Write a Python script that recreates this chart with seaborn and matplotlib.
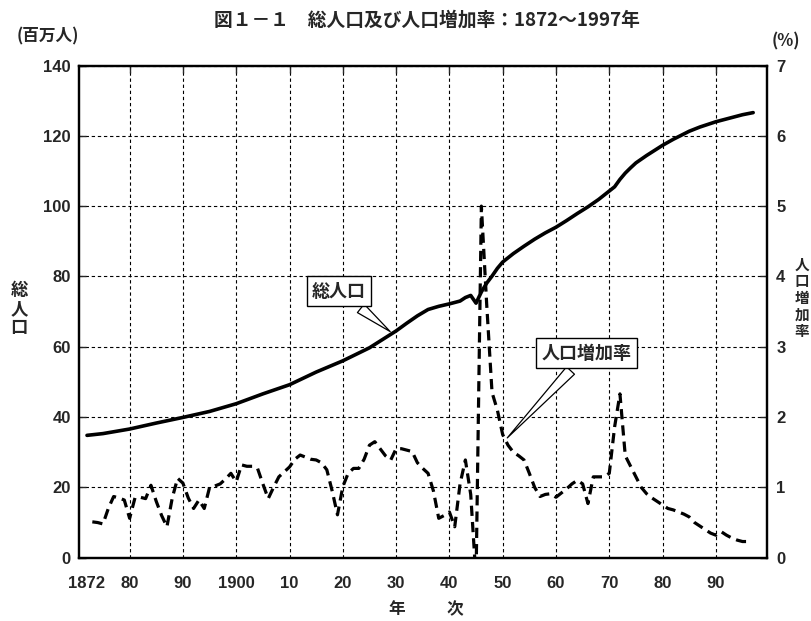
import numpy as np
import pandas as pd
import matplotlib
matplotlib.use("Agg")
import matplotlib.pyplot as plt
import seaborn as sns

# ---- data ----
pop_years = [1872, 1875, 1880, 1885, 1890, 1895, 1900, 1905, 1910, 1915, 1920, 1925,
             1930, 1932, 1934, 1936, 1938, 1940, 1942, 1943, 1944, 1945, 1946, 1947,
             1948, 1949, 1950, 1952, 1954, 1956, 1958, 1960, 1962, 1964, 1966, 1968,
             1970, 1971, 1972, 1973, 1974, 1975, 1977, 1980, 1982, 1985, 1987, 1990,
             1993, 1995, 1997]
population = [34.8, 35.3, 36.6, 38.3, 39.9, 41.6, 43.8, 46.6, 49.2, 52.8, 56.0, 59.7,
              64.5, 66.7, 68.8, 70.6, 71.5, 72.2, 73.0, 74.0, 74.6, 72.4, 75.6, 78.1,
              80.1, 82.3, 84.1, 86.5, 88.6, 90.6, 92.4, 94.0, 95.9, 97.9, 99.8, 101.9,
              104.3, 105.5, 107.6, 109.4, 110.9, 112.3, 114.4, 117.3, 119.0, 121.3, 122.5, 124.0,
              125.2, 126.0, 126.6]

rate_years = list(range(1873, 1997))
growth_rate = [
    0.51, 0.50, 0.48, 0.70, 0.87, 0.85, 0.82,                    # 1873-1879
    0.56, 0.85, 0.86, 0.84, 1.03, 0.80, 0.60, 0.44, 0.85, 1.13,  # 1880-1889
    1.06, 0.85, 0.70, 0.82, 0.70, 1.00, 1.02, 1.05, 1.12, 1.20,  # 1890-1899
    1.08, 1.32, 1.30, 1.30, 1.27, 1.05, 0.84, 1.00, 1.15, 1.22,  # 1900-1909
    1.29, 1.40, 1.46, 1.43, 1.40, 1.39, 1.35, 1.25, 0.95, 0.61,  # 1910-1919
    1.01, 1.20, 1.27, 1.27, 1.40, 1.60, 1.65, 1.55, 1.45, 1.39,  # 1920-1929
    1.55, 1.55, 1.53, 1.51, 1.35, 1.27, 1.20, 0.95, 0.56, 0.60,  # 1930-1939
    0.65, 0.44, 1.05, 1.39, 0.90, -0.30, 5.00, 3.60, 2.35, 2.10, # 1940-1949
    1.75, 1.60, 1.50, 1.45, 1.39, 1.20, 1.00, 0.87, 0.90, 0.91,  # 1950-1959
    0.86, 0.92, 0.98, 1.05, 1.10, 1.05, 0.77, 1.15, 1.15, 1.15,  # 1960-1969
    1.20, 1.86, 2.33, 1.45, 1.30, 1.15, 1.00, 0.91, 0.85, 0.80,  # 1970-1979
    0.75, 0.70, 0.68, 0.65, 0.62, 0.58, 0.50, 0.45, 0.40, 0.35,  # 1980-1989
    0.32, 0.37, 0.32, 0.28, 0.25, 0.23, 0.23,                    # 1990-1996
]

x_ticks = [1872, 1880, 1890, 1900, 1910, 1920, 1930, 1940, 1950, 1960, 1970, 1980, 1990]
x_ticklabels = ["1872", "80", "90", "1900", "10", "20", "30", "40", "50", "60", "70", "80", "90"]
left_ticks = [0, 20, 40, 60, 80, 100, 120, 140]
right_ticks = [0, 1, 2, 3, 4, 5, 6, 7]

title = "図１－１　総人口及び人口増加率：1872～1997年"

# ---- style ----
sns.set_style("white")
plt.rcParams["font.family"] = ["Liberation Sans", "Noto Sans CJK JP", "DejaVu Sans"]
JP = ["Noto Sans CJK JP", "DejaVu Sans"]

df_pop = pd.DataFrame({"year": pop_years, "pop": population})
df_rate = pd.DataFrame({"year": rate_years, "rate": growth_rate})

fig = plt.figure(figsize=(8.11, 6.21), dpi=100)
W, H = 811, 621
L, R, B, T = 79, 766.5, 557.7, 65.5
ax = fig.add_axes([L / W, 1 - B / H, (R - L) / W, (B - T) / H])
ax2 = ax.twinx()

sns.lineplot(data=df_pop, x="year", y="pop", ax=ax, color="black", lw=2.6, zorder=3)
sns.lineplot(data=df_rate, x="year", y="rate", ax=ax2, color="black", lw=2.3,
             zorder=3, linestyle=(0, (3.2, 1.9)))

ax.set_xlim(1870.5, 1999.5)
ax.set_ylim(0, 140)
ax2.set_ylim(0, 7)

ax.set_xticks(x_ticks)
ax.set_xticklabels(x_ticklabels, fontsize=12, fontweight="bold")
ax.set_yticks(left_ticks)
ax.set_yticklabels([str(v) for v in left_ticks], fontsize=12, fontweight="bold")
ax2.set_yticks(right_ticks)
ax2.set_yticklabels([str(v) for v in right_ticks], fontsize=12, fontweight="bold")

ax.set_xlabel("")
ax.set_ylabel("")
ax2.set_ylabel("")

ax.grid(True, color="black", lw=0.8, linestyle=(0, (3, 2.5)))
ax.xaxis.get_gridlines()[0].set_visible(False)
ax2.grid(False)

ax.tick_params(axis="x", direction="in", length=5, width=1, pad=13, top=True)
ax.tick_params(axis="y", direction="in", length=5, width=1, pad=6)
ax2.tick_params(axis="y", direction="in", length=5, width=1, pad=7)
ax.xaxis.get_major_ticks()[0].tick1line.set_visible(False)
ax.xaxis.get_major_ticks()[0].tick2line.set_visible(False)

for a in (ax, ax2):
    for s in a.spines.values():
        s.set_color("black")
        s.set_linewidth(1.6)
ax.set_zorder(ax2.get_zorder() - 1)
ax.patch.set_visible(True)
ax.patch.set_facecolor("white")
ax2.patch.set_visible(False)

# ---- annotations ----
pop_target_x = 1929.3
pop_target_y = float(np.interp(pop_target_x, pop_years, population))
ax.annotate("総人口", xy=(pop_target_x, pop_target_y), xytext=(1919.3, 75.8),
            family=JP, fontsize=13, fontweight="bold", ha="center", va="center",
            bbox=dict(boxstyle="square,pad=0.3", fc="white", ec="black", lw=1),
            arrowprops=dict(arrowstyle="wedge,tail_width=0.6,shrink_factor=0.5",
                            fc="white", ec="black", lw=0.9),
            zorder=6)

rate_target_x = 1950.5
rate_target_y = float(np.interp(rate_target_x, rate_years, growth_rate))
ax2.annotate("人口増加率", xy=(rate_target_x, rate_target_y), xytext=(1965.8, 2.91),
             family=JP, fontsize=13, fontweight="bold", ha="center", va="center",
             bbox=dict(boxstyle="square,pad=0.3", fc="white", ec="black", lw=1),
             arrowprops=dict(arrowstyle="wedge,tail_width=0.6,shrink_factor=0.5",
                             fc="white", ec="black", lw=0.9),
             zorder=6)

# ---- figure texts ----
fig.text(427 / W, 1 - 20 / H, title, family=JP, fontsize=13.5, fontweight="bold",
         ha="center", va="center")
fig.text(48 / W, 1 - 36 / H, "(百万人)", family=JP, fontsize=12, fontweight="bold",
         ha="center", va="center")
fig.text(786 / W, 1 - 41 / H, "(%)", family=JP, fontsize=12, fontweight="bold",
         ha="center", va="center")
fig.text(19 / W, 1 - 309 / H, "総\n人\n口", family=JP, fontsize=12.5, fontweight="bold",
         ha="center", va="center", linespacing=1.05)
fig.text(802 / W, 1 - 298 / H, "人\n口\n増\n加\n率", family=JP, fontsize=10.5,
         fontweight="bold", ha="center", va="center", linespacing=1.05)
fig.text(397 / W, 1 - 609 / H, "年", family=JP, fontsize=12, fontweight="bold",
         ha="center", va="center")
fig.text(455 / W, 1 - 609 / H, "次", family=JP, fontsize=12, fontweight="bold",
         ha="center", va="center")

fig.savefig("out.png", dpi=100, facecolor="white")
